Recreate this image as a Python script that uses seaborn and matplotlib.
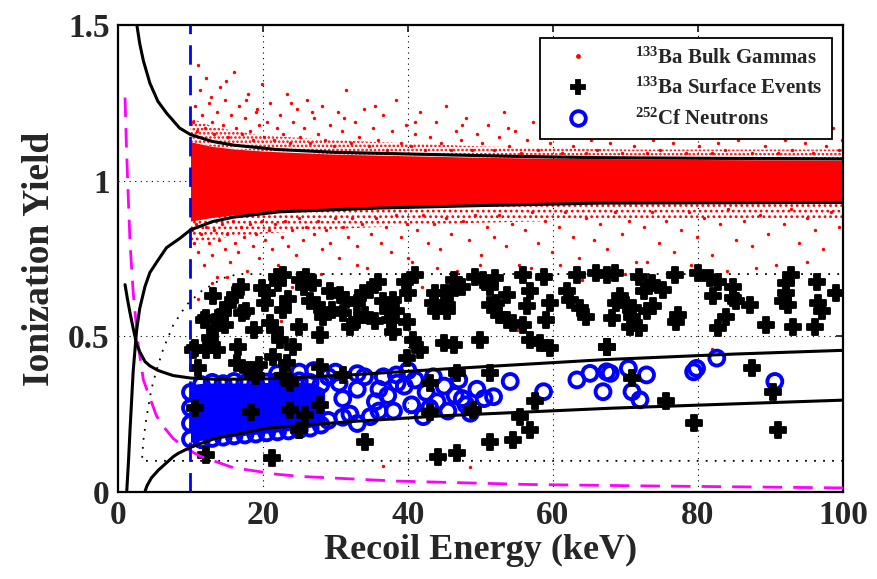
import numpy as np
import pandas as pd
import matplotlib
matplotlib.use("Agg")
import matplotlib.pyplot as plt
from matplotlib.lines import Line2D
import seaborn as sns

# ---------------- data ----------------
# acceptance curves
gamma_hi_x = [2.6, 3.0, 3.5, 4.4, 5.5, 6.7, 8.5, 10, 13, 16, 22, 30, 36, 45, 55, 66, 80, 100]
gamma_hi_y = [1.5, 1.44, 1.385, 1.313, 1.255, 1.217, 1.169, 1.148, 1.126, 1.114, 1.1, 1.091, 1.088, 1.083, 1.078, 1.074, 1.072, 1.07]
gamma_lo_x = [1.2, 1.45, 1.66, 2.1, 2.57, 3.0, 3.72, 4.4, 5.56, 6.7, 8.55, 10, 13.1, 16, 22.3, 36, 50, 66.5, 100]
gamma_lo_y = [0.0, 0.1, 0.2, 0.39, 0.52, 0.59, 0.66, 0.705, 0.746, 0.785, 0.815, 0.842, 0.869, 0.883, 0.9, 0.912, 0.92, 0.928, 0.93]
nr_hi_x = [0.97, 1.3, 1.66, 2.1, 2.57, 3.0, 3.72, 4.4, 5.56, 7.6, 10, 13.4, 20, 32, 45, 67, 85, 100]
nr_hi_y = [0.666, 0.62, 0.575, 0.525, 0.475, 0.45, 0.419, 0.405, 0.39, 0.374, 0.366, 0.362, 0.363, 0.376, 0.395, 0.425, 0.443, 0.455]
nr_lo_x = [3.7, 4.0, 4.6, 5.56, 7.6, 8.3, 10.2, 13.4, 20.5, 32, 45, 67.9, 85, 100]
nr_lo_y = [0.0, 0.02, 0.045, 0.07, 0.113, 0.124, 0.146, 0.172, 0.205, 0.226, 0.245, 0.269, 0.283, 0.295]
thr_x = [0.97, 1.15, 1.33, 1.66, 2.1, 2.8, 3.5, 4.2, 5.3, 6.0, 7.6, 9.2, 11.3, 15.9, 21.9, 25.1, 38.4, 56.8, 74.8, 92.2, 100]
thr_y = [1.267, 1.12, 1.0, 0.8, 0.64, 0.47, 0.36, 0.315, 0.245, 0.218, 0.172, 0.143, 0.115, 0.078, 0.057, 0.05, 0.035, 0.024, 0.019, 0.015, 0.013]
surf_x = [100, 3.3, 3.5, 3.95, 4.6, 5.3, 6.25, 7.6, 9.4, 11.5, 14.5, 16.6, 100]
surf_y = [0.1, 0.1, 0.167, 0.242, 0.33, 0.39, 0.46, 0.535, 0.6, 0.645, 0.687, 0.7, 0.7]
threshold_keV = 10

# dense core of the bulk gamma band and its dotted fringe
core_x = [10, 13, 16, 20, 30, 40, 50, 60, 70, 80, 90, 100]
core_hi = [1.125, 1.11, 1.102, 1.095, 1.085, 1.08, 1.075, 1.072, 1.07, 1.068, 1.067, 1.066]
core_lo = [0.87, 0.882, 0.89, 0.898, 0.908, 0.916, 0.921, 0.925, 0.929, 0.931, 0.932, 0.933]
fringe_hi = [1.2, 1.175, 1.16, 1.145, 1.13, 1.12, 1.11, 1.105, 1.1, 1.1, 1.1, 1.1]
fringe_lo = [0.79, 0.81, 0.82, 0.83, 0.845, 0.855, 0.865, 0.87, 0.875, 0.88, 0.88, 0.88]

# individual bulk gamma events outside the dense core
gam_up_x = [10.3, 10.6, 10.9, 11.3, 11.6, 12.0, 12.2, 12.6, 13.0, 13.3, 13.7, 14.1, 14.5, 14.8, 15.2, 15.6, 16.0, 16.3, 16.7, 17.1,
            17.5, 17.9, 18.2, 18.6, 19.0, 19.4, 19.8, 20.2, 20.6, 21.0, 21.5, 21.9, 22.4, 22.8, 23.3, 23.7, 24.2, 24.7, 25.1, 25.6,
            26.1, 26.5, 27.0, 27.6, 28.1, 28.6, 29.2, 29.8, 30.3, 30.9, 31.5, 32.1, 32.7, 33.3, 34.0, 34.6, 35.2, 35.9, 36.5, 37.1,
            37.8, 38.4, 39.0, 39.7, 40.4, 41.0, 41.7, 42.4, 43.1, 43.8, 44.5, 45.2, 45.9, 46.6, 47.3, 48.0, 48.8, 49.5, 50.2, 51.0,
            51.8, 52.5, 53.3, 54.0, 54.8, 55.6, 56.4, 57.2, 58.0, 58.8, 59.6, 60.4, 61.2, 62.0, 62.8, 63.6, 64.5, 65.3, 66.1, 67.0,
            67.8, 68.7, 69.5, 70.4, 71.2, 72.1, 73.0, 73.8, 74.7, 75.6, 76.5, 77.4, 78.3, 79.2, 80.1, 81.0, 81.9, 82.8, 83.7, 84.6,
            85.5, 86.5, 87.4, 88.3, 89.2, 90.2, 91.1, 92.0, 93.0, 93.9, 94.8, 95.8, 96.7, 97.7, 98.6, 99.5, 99.8,
            11.0, 12.8, 14.9, 17.7, 19.2, 23.9, 26.8, 31.2, 35.4, 40.9, 47.5, 53.8]
gam_up_y = [1.19, 1.24, 1.16, 1.29, 1.21, 1.17, 1.33, 1.25, 1.19, 1.15, 1.22, 1.30, 1.18, 1.26, 1.14, 1.21, 1.35, 1.17, 1.24, 1.15,
            1.20, 1.28, 1.16, 1.13, 1.22, 1.18, 1.31, 1.14, 1.19, 1.25, 1.13, 1.17, 1.21, 1.15, 1.28, 1.12, 1.19, 1.23, 1.14, 1.17,
            1.26, 1.12, 1.20, 1.15, 1.24, 1.13, 1.18, 1.11, 1.22, 1.16, 1.29, 1.12, 1.19, 1.14, 1.23, 1.11, 1.17, 1.13, 1.21, 1.10,
            1.16, 1.26, 1.12, 1.18, 1.11, 1.15, 1.22, 1.10, 1.14, 1.19, 1.12, 1.24, 1.10, 1.16, 1.13, 1.20, 1.10, 1.15, 1.12, 1.18,
            1.10, 1.14, 1.22, 1.11, 1.16, 1.09, 1.13, 1.19, 1.10, 1.15, 1.12, 1.21, 1.09, 1.14, 1.11, 1.17, 1.09, 1.13, 1.10, 1.16,
            1.12, 1.20, 1.09, 1.14, 1.11, 1.18, 1.09, 1.13, 1.10, 1.15, 1.12, 1.19, 1.09, 1.14, 1.11, 1.17, 1.09, 1.12, 1.10, 1.15,
            1.13, 1.18, 1.09, 1.14, 1.11, 1.16, 1.09, 1.13, 1.10, 1.19, 1.12, 1.09, 1.15, 1.11, 1.17, 1.10, 1.13,
            1.37, 1.27, 1.32, 1.26, 1.23, 1.25, 1.22, 1.20, 1.24, 1.19, 1.18, 1.17]
gam_lo_x = [10.2, 10.5, 10.8, 11.1, 11.5, 11.8, 12.1, 12.5, 12.9, 13.2, 13.6, 14.0, 14.3, 14.7, 15.1, 15.5, 15.9, 16.2, 16.6, 17.0,
            17.4, 17.8, 18.2, 18.6, 19.0, 19.5, 19.9, 20.3, 20.8, 21.2, 21.7, 22.1, 22.6, 23.0, 23.5, 24.0, 24.5, 25.0, 25.5, 26.0,
            26.6, 27.1, 27.6, 28.2, 28.7, 29.3, 29.9, 30.5, 31.1, 31.7, 32.3, 33.0, 33.6, 34.3, 34.9, 35.6, 36.3, 37.0, 37.7, 38.4,
            39.1, 39.8, 40.6, 41.3, 42.1, 42.8, 43.6, 44.4, 45.2, 46.0, 46.8, 47.6, 48.4, 49.2, 50.1, 50.9, 51.8, 52.6, 53.5, 54.4,
            55.3, 56.2, 57.1, 58.0, 58.9, 59.8, 60.8, 61.7, 62.7, 63.6, 64.6, 65.6, 66.5, 67.5, 68.5, 69.5, 70.5, 71.5, 72.5, 73.6,
            74.6, 75.6, 76.7, 77.7, 78.8, 79.8, 80.9, 82.0, 83.0, 84.1, 85.2, 86.3, 87.4, 88.5, 89.6, 90.7, 91.8, 92.9, 94.0, 95.1,
            96.2, 97.3, 98.4, 99.5]
gam_lo_y = [0.84, 0.80, 0.86, 0.77, 0.83, 0.73, 0.85, 0.80, 0.76, 0.84, 0.69, 0.81, 0.86, 0.78, 0.83, 0.74, 0.87, 0.80, 0.77, 0.85,
            0.82, 0.71, 0.86, 0.79, 0.83, 0.75, 0.87, 0.81, 0.84, 0.78, 0.86, 0.73, 0.82, 0.87, 0.79, 0.84, 0.76, 0.88, 0.81, 0.85,
            0.70, 0.83, 0.87, 0.78, 0.84, 0.80, 0.88, 0.75, 0.85, 0.82, 0.88, 0.79, 0.86, 0.72, 0.83, 0.88, 0.80, 0.85, 0.77, 0.89,
            0.82, 0.86, 0.74, 0.84, 0.89, 0.80, 0.86, 0.78, 0.88, 0.83, 0.71, 0.87, 0.81, 0.89, 0.76, 0.85, 0.82, 0.89, 0.79, 0.86,
            0.73, 0.84, 0.90, 0.80, 0.87, 0.77, 0.85, 0.90, 0.82, 0.75, 0.88, 0.81, 0.86, 0.78, 0.90, 0.83, 0.87, 0.74, 0.85, 0.90,
            0.80, 0.87, 0.77, 0.84, 0.90, 0.82, 0.88, 0.76, 0.86, 0.91, 0.81, 0.87, 0.79, 0.89, 0.83, 0.73, 0.86, 0.91, 0.80, 0.88,
            0.84, 0.78, 0.90, 0.85]
gam_stray_x = [11.0, 13.0, 12.5, 15.0, 17.0, 20.0, 22.5, 24.0, 28.0, 31.0, 36.0, 42.0, 46.0, 52.0, 58.0, 64.0, 70.0, 76.0, 84.0, 92.0,
               21.0, 36.5, 48.5, 16.0, 26.0, 55.0, 82.0, 33.0, 44.0, 61.0, 67.0, 73.0, 79.0, 88.0, 95.0, 40.0, 50.0, 57.0]
gam_stray_y = [0.62, 0.67, 0.57, 0.69, 0.64, 0.68, 0.55, 0.66, 0.70, 0.62, 0.69, 0.66, 0.70, 0.67, 0.70, 0.68, 0.70, 0.69, 0.71, 0.70,
               0.12, 0.085, 0.08, 0.46, 0.40, 0.52, 0.46, 0.73, 0.72, 0.73, 0.72, 0.74, 0.73, 0.72, 0.74, 0.75, 0.73, 0.72]

# 133Ba surface events
surf_ev_x = [13.1, 16.1, 12.2, 14.1, 14.8, 13.4, 12.7, 10.6, 12.2, 13.6, 11.1, 16.6, 17.7, 17.1, 18.7, 16.4, 18.0, 19.4, 19.1, 19.8,
             20.5, 20.3, 21.0, 21.7, 22.3, 21.9, 22.8, 22.1, 22.8, 24.2, 21.4, 23.3, 22.8, 23.7, 25.1, 26.0, 25.6, 26.9, 26.5, 27.4,
             28.3, 29.2, 30.6, 31.5, 31.1, 32.0, 27.9, 24.9, 27.9, 31.1, 10.6, 18.4, 23.7, 25.8, 27.9, 24.9, 12.2, 21.2, 10.4, 11.8,
             14.5, 35.9, 34.8, 33.8, 36.6, 38.0, 32.9, 34.1, 37.3, 38.4, 37.5, 39.8, 38.0, 32.9, 40.7, 41.7, 39.8, 39.6, 41.0, 44.9,
             43.7, 45.8, 43.5, 45.4, 43.9, 45.4, 46.3, 44.9, 46.3, 49.2, 50.4, 52.0, 51.3, 53.6, 52.2, 51.3, 52.5, 53.6, 54.5, 49.9,
             55.9, 58.7, 56.8, 56.4, 55.9, 56.8, 58.2, 59.6, 59.1, 59.6, 61.9, 62.3, 63.7, 64.6, 63.3, 66.0, 67.4, 43.0, 46.8, 51.3,
             43.0, 49.0, 57.5, 55.4, 56.8, 54.5, 51.3, 34.1, 44.2, 46.8, 67.4, 68.6, 71.8, 76.8, 80.0, 81.7, 82.8, 84.9, 82.1, 84.9,
             85.3, 87.2, 83.9, 82.8, 89.4, 92.9, 92.2, 92.2, 91.7, 92.4, 93.1, 96.4, 96.6, 97.1, 96.1, 99.1, 69.2, 68.7, 70.1, 71.1,
             72.5, 73.6, 75.2, 73.8, 72.9, 68.2, 70.9, 70.6, 71.8, 77.0, 77.3, 67.4, 87.4, 70.9, 75.6, 90.3, 79.4, 91.1, 17.0, 15.2,
             23.5, 29.5, 35.5, 40.0, 47.5]
surf_ev_y = [0.628, 0.633, 0.558, 0.563, 0.537, 0.526, 0.494, 0.462, 0.456, 0.456, 0.397, 0.467, 0.58, 0.574, 0.521, 0.413, 0.392, 0.408, 0.371, 0.655,
             0.638, 0.606, 0.542, 0.521, 0.489, 0.692, 0.698, 0.671, 0.585, 0.467, 0.435, 0.413, 0.371, 0.349, 0.681, 0.692, 0.66, 0.671, 0.612, 0.601,
             0.563, 0.644, 0.633, 0.617, 0.574, 0.531, 0.505, 0.531, 0.403, 0.376, 0.269, 0.258, 0.264, 0.248, 0.28, 0.2, 0.119, 0.108, 0.456, 0.553,
             0.574, 0.676, 0.649, 0.638, 0.612, 0.617, 0.606, 0.569, 0.58, 0.58, 0.553, 0.547, 0.515, 0.553, 0.489, 0.456, 0.43, 0.676, 0.698, 0.638,
             0.638, 0.638, 0.606, 0.601, 0.58, 0.58, 0.681, 0.478, 0.472, 0.692, 0.681, 0.687, 0.66, 0.633, 0.606, 0.601, 0.569, 0.553, 0.542, 0.489,
             0.698, 0.692, 0.644, 0.596, 0.537, 0.489, 0.478, 0.462, 0.553, 0.606, 0.644, 0.617, 0.59, 0.563, 0.698, 0.703, 0.467, 0.349, 0.381, 0.381,
             0.258, 0.264, 0.291, 0.242, 0.2, 0.167, 0.162, 0.162, 0.113, 0.124, 0.698, 0.703, 0.692, 0.698, 0.703, 0.687, 0.676, 0.66, 0.628, 0.622,
             0.612, 0.601, 0.563, 0.526, 0.537, 0.698, 0.671, 0.638, 0.612, 0.601, 0.531, 0.676, 0.606, 0.58, 0.531, 0.638, 0.628, 0.606, 0.601, 0.59,
             0.644, 0.671, 0.649, 0.596, 0.58, 0.558, 0.563, 0.531, 0.526, 0.547, 0.569, 0.467, 0.397, 0.365, 0.291, 0.322, 0.221, 0.2, 0.66, 0.6,
             0.62, 0.585, 0.55, 0.64, 0.66]

# 252Cf neutrons: dense blob outline and individual events
blob_x = [10, 12, 15, 18, 21, 24, 27, 28.5]
blob_top = [0.345, 0.35, 0.35, 0.35, 0.352, 0.355, 0.35, 0.33]
blob_bot = [0.16, 0.168, 0.176, 0.183, 0.19, 0.198, 0.21, 0.22]
neu_x = [10, 10, 10, 10, 11.5, 13, 14.5, 16, 17.5, 19, 20.5, 22, 23.5, 25, 26.5, 28,
         11.5, 13, 14.5, 16, 17.5, 19, 20.5, 22, 23.5, 25, 26.5, 28,
         29, 30.5, 31, 32, 33, 34, 34.8, 35.5, 36.6, 37.2, 38.4, 38, 39.5, 40.5, 41, 42.1, 42.5, 43.5, 44, 45, 45.5, 46.5,
         47, 48, 48.6, 49.5, 50.5, 51.8, 54.1, 58.7, 63.3, 65.1, 67.4, 66.9, 67.9, 70.4, 72.9, 70.9, 72, 79.4, 79.8, 82.6, 90.6,
         25, 22, 27, 30, 33, 29, 31, 33, 36, 38.5, 40, 36, 43, 47.5]
neu_y = [0.17, 0.22, 0.27, 0.32, 0.345, 0.352, 0.348, 0.355, 0.35, 0.347, 0.353, 0.356, 0.35, 0.357, 0.352, 0.345,
         0.168, 0.172, 0.176, 0.18, 0.183, 0.186, 0.19, 0.193, 0.196, 0.2, 0.205, 0.215,
         0.37, 0.35, 0.30, 0.25, 0.33, 0.37, 0.242, 0.29, 0.37, 0.31, 0.376, 0.26, 0.34, 0.28, 0.36, 0.242, 0.32, 0.37, 0.29, 0.34, 0.26, 0.31,
         0.36, 0.28, 0.253, 0.33, 0.30, 0.306, 0.355, 0.322, 0.36, 0.381, 0.386, 0.322, 0.381, 0.397, 0.376, 0.322, 0.296, 0.386, 0.397, 0.43, 0.355,
         0.385, 0.38, 0.39, 0.385, 0.38, 0.23, 0.24, 0.22, 0.26, 0.35, 0.39, 0.33, 0.27, 0.3]

x_ticks = [0, 20, 40, 60, 80, 100]
y_ticks = [0, 0.5, 1, 1.5]
y_tick_labels = ["0", "0.5", "1", "1.5"]

# ---------------- style ----------------
sns.set_theme(style="white")
plt.rcParams["font.family"] = ["Liberation Serif", "DejaVu Serif"]
plt.rcParams["font.weight"] = "bold"
plt.rcParams["mathtext.fontset"] = "custom"
plt.rcParams["mathtext.rm"] = "Liberation Serif:bold"
plt.rcParams["mathtext.it"] = "Liberation Serif:italic:bold"
plt.rcParams["mathtext.bf"] = "Liberation Serif:bold"
plt.rcParams["hatch.linewidth"] = 1.2

RED = "#ff0000"
BLUE = "#0000ff"
MAG = "#ff00ff"

fig = plt.figure(figsize=(8.78, 5.79), dpi=100)
ax = fig.add_axes([0.1344, 0.1503, 0.8257, 0.8065])

# grid (dotted)
for gx in [20, 40, 60, 80]:
    ax.axvline(gx, color="black", lw=0.8, ls=(0, (1, 4)), zorder=0)
for gy in [0.5, 1.0]:
    ax.axhline(gy, color="black", lw=0.8, ls=(0, (1, 4)), zorder=0)

# bulk gammas: dotted fringe, solid core, single events
ax.fill_between(core_x, core_hi, fringe_hi, facecolor="none", edgecolor=RED, hatch="....", lw=0, zorder=1)
ax.fill_between(core_x, fringe_lo, core_lo, facecolor="none", edgecolor=RED, hatch="...", lw=0, zorder=1)
ax.fill_between(core_x, core_lo, core_hi, color=RED, lw=0, zorder=1)
gam_df = pd.DataFrame({"E": gam_up_x + gam_lo_x + gam_stray_x, "Y": gam_up_y + gam_lo_y + gam_stray_y})
sns.scatterplot(data=gam_df, x="E", y="Y", ax=ax, s=6, color=RED, linewidth=0, zorder=2, legend=False)

# neutrons
neu_df = pd.DataFrame({"E": neu_x, "Y": neu_y})
sns.scatterplot(data=neu_df, x="E", y="Y", ax=ax, s=115, marker="o", facecolors="none",
                edgecolor=BLUE, linewidth=2.8, zorder=3, legend=False)
ax.fill_between(blob_x, blob_bot, blob_top, color=BLUE, lw=0, zorder=3.5)

# surface events
surf_df = pd.DataFrame({"E": surf_ev_x, "Y": surf_ev_y})
sns.scatterplot(data=surf_df, x="E", y="Y", ax=ax, s=130, marker="P", color="black",
                edgecolor="black", linewidth=1.3, zorder=4, legend=False)

# curves
for cx, cy in [(gamma_hi_x, gamma_hi_y), (gamma_lo_x, gamma_lo_y), (nr_hi_x, nr_hi_y), (nr_lo_x, nr_lo_y)]:
    ax.plot(cx, cy, color="black", lw=2.2, zorder=6)
ax.plot(surf_x, surf_y, color="black", lw=1.3, ls=(0, (1, 4)), zorder=5)
ax.plot(thr_x, thr_y, color=MAG, lw=2.0, ls=(0, (7, 4)), zorder=5)
ax.axvline(threshold_keV, color=BLUE, lw=2.0, ls=(0, (7, 4)), zorder=5)

ax.set_xlim(0, 100)
ax.set_ylim(0, 1.5)
ax.set_xticks(x_ticks)
ax.set_yticks(y_ticks)
ax.set_yticklabels(y_tick_labels)
ax.tick_params(direction="in", length=5, width=1.3, top=True, right=True, labelsize=24, pad=6)
for lab in ax.get_xticklabels() + ax.get_yticklabels():
    lab.set_fontweight("bold")
for sp in ax.spines.values():
    sp.set_linewidth(1.6)
    sp.set_color("black")
ax.set_xlabel("Recoil Energy (keV)", fontsize=26, fontweight="bold", labelpad=2)
ax.set_ylabel("Ionization Yield", fontsize=27, fontweight="bold", labelpad=8)

handles = [
    Line2D([], [], ls="none", marker="o", ms=3.5, color=RED, mew=0),
    Line2D([], [], ls="none", marker="P", ms=10, color="black", mec="black", mew=1.3),
    Line2D([], [], ls="none", marker="o", ms=10.5, mfc="none", mec=BLUE, mew=2.8),
]
labels = [r"$^{133}$Ba Bulk Gammas", r"$^{133}$Ba Surface Events", r"$^{252}$Cf Neutrons"]
leg = ax.legend(handles, labels, loc="upper right", bbox_to_anchor=(0.985, 0.972), fontsize=15,
                frameon=True, fancybox=False, edgecolor="black", framealpha=1, borderpad=0.45,
                labelspacing=0.45, handletextpad=1.4, handlelength=2.7, borderaxespad=0)
leg.get_frame().set_linewidth(1.3)
leg.set_zorder(10)

fig.savefig("out.png", dpi=100)
